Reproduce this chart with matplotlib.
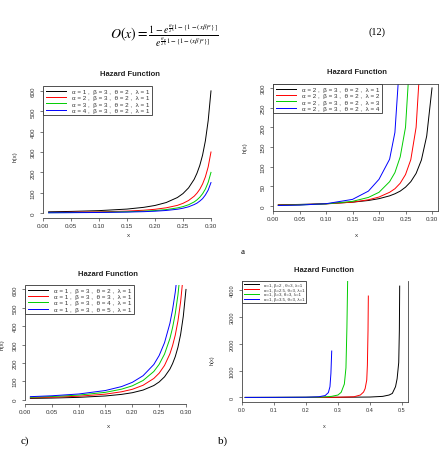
import matplotlib
matplotlib.use("Agg")
import matplotlib.pyplot as plt
from matplotlib.lines import Line2D

plt.rcParams['font.family'] = ['Liberation Sans', 'DejaVu Sans']
plt.rcParams['mathtext.fontset'] = 'stix'

# ---- data ----
# (a) top-left: alpha varies
x_a = [0.01, 0.05, 0.10, 0.15, 0.18, 0.20, 0.22, 0.24, 0.25, 0.26, 0.27, 0.275, 0.28, 0.285, 0.29, 0.295, 0.30]
h_a1 = [6.4, 8.3, 12.2, 19.8, 28.4, 37.5, 51.9, 76.5, 96, 124, 166, 196, 234, 285, 355, 454, 600]
h_a2 = [3.2, 4.2, 6.1, 9.9, 14.2, 18.8, 26, 38, 48, 62, 83, 98, 117, 143, 178, 227, 300]
h_a3 = [2.1, 2.8, 4.1, 6.6, 9.5, 12.5, 17.3, 25.5, 32, 41, 55, 65, 78, 95, 118, 151, 200]
h_a4 = [1.6, 2.1, 3.1, 5.0, 7.1, 9.4, 13, 19, 24, 31, 42, 49, 59, 71, 89, 113, 150]
labels_a = ["α = 1 ,  β = 3 ,  θ = 2 ,  λ = 1", "α = 2 ,  β = 3 ,  θ = 2 ,  λ = 1",
            "α = 3 ,  β = 3 ,  θ = 2 ,  λ = 1", "α = 4 ,  β = 3 ,  θ = 2 ,  λ = 1"]

# top-right: lambda varies
x_l1 = [0.01, 0.05, 0.10, 0.15, 0.18, 0.20, 0.22, 0.23, 0.24, 0.25, 0.26, 0.27, 0.28, 0.29, 0.30]
h_l1 = [3.2, 4.2, 6.1, 9.9, 14.2, 18.8, 26, 31.2, 38, 48, 62, 83, 117, 178, 300]
x_l2 = [0.01, 0.05, 0.10, 0.15, 0.18, 0.20, 0.22, 0.23, 0.24, 0.25, 0.26, 0.27, 0.28]
h_l2 = [2.5, 3.5, 5.5, 10, 16, 23, 35, 44, 58, 80, 118, 200, 420]
x_l3 = [0.01, 0.05, 0.10, 0.15, 0.18, 0.20, 0.22, 0.23, 0.24, 0.25, 0.26]
h_l3 = [2, 3, 5.5, 12, 22, 35, 62, 85, 125, 200, 420]
x_l4 = [0.01, 0.05, 0.10, 0.15, 0.18, 0.20, 0.22, 0.23, 0.24]
h_l4 = [1.5, 2.5, 6, 17, 38, 68, 119, 187, 390]
labels_l = ["α = 2 ,  β = 3 ,  θ = 2 ,  λ = 1", "α = 2 ,  β = 3 ,  θ = 2 ,  λ = 2",
            "α = 2 ,  β = 3 ,  θ = 2 ,  λ = 3", "α = 2 ,  β = 3 ,  θ = 2 ,  λ = 4"]

# (c) bottom-left: theta varies
x_t = x_a
h_t1 = h_a1
h_t2 = [9.6, 12.5, 18.3, 29.7, 42.6, 56, 78, 115, 144, 186, 249, 294, 351, 428, 533, 681, 900]
h_t3 = [12.8, 16.6, 24.4, 39.6, 56.8, 75, 104, 153, 192, 248, 332, 392, 468, 570, 710, 908, 1200]
h_t4 = [16, 20.8, 30.5, 49.5, 71, 94, 130, 191, 240, 310, 415, 490, 585, 713, 888, 1135, 1500]
labels_t = ["α = 1 ,  β = 3 ,  θ = 2 ,  λ = 1", "α = 1 ,  β = 3 ,  θ = 3 ,  λ = 1",
            "α = 1 ,  β = 3 ,  θ = 4 ,  λ = 1", "α = 1 ,  β = 3 ,  θ = 5 ,  λ = 1"]

# (b) bottom-right: beta varies
x_b1 = [0.01, 0.10, 0.20, 0.30, 0.40, 0.44, 0.46, 0.47, 0.48, 0.485, 0.49, 0.492, 0.493]
h_b1 = [0, 1, 3, 6, 15, 40, 90, 150, 400, 700, 1300, 2500, 4150]
x_b2 = [0.01, 0.10, 0.20, 0.30, 0.35, 0.37, 0.38, 0.385, 0.39, 0.392, 0.394, 0.395]
h_b2 = [0, 1, 3, 8, 25, 90, 200, 330, 650, 1200, 2500, 3780]
x_b3 = [0.01, 0.10, 0.20, 0.25, 0.28, 0.30, 0.31, 0.32, 0.325, 0.328, 0.3305]
h_b3 = [0, 2, 6, 15, 40, 90, 190, 500, 1100, 2600, 4500]
x_b4 = [0.01, 0.10, 0.20, 0.24, 0.26, 0.27, 0.275, 0.278, 0.2795, 0.2805]
h_b4 = [0, 2, 8, 25, 70, 180, 400, 900, 1400, 1730]
labels_b = ["α=1, β=2 , θ=3, λ=1", "α=1, β=2.5, θ=3, λ=1",
            "α=1, β=3, θ=3, λ=1", "α=1, β=3.5, θ=3, λ=1"]

colors = ['black', 'red', '#00CD00', 'blue']

W, H = 446, 452
fig = plt.figure(figsize=(W / 100, H / 100), dpi=100)


def px_axes(l, t, r, b):
    return fig.add_axes([l / W, 1 - b / H, (r - l) / W, (b - t) / H])


def fig_xy(x, y):
    return x / W, 1 - y / H


def style(ax, xticks, xlabels, yticks, box=False, tick_fs=4.5):
    ax.set_xticks(xticks)
    ax.set_xticklabels(xlabels)
    ax.set_yticks(yticks)
    ax.set_yticklabels([str(v) for v in yticks])
    ax.tick_params(direction='out', length=2.2, width=0.5, colors='#444',
                   labelsize=tick_fs, labelcolor='#333', pad=1.5)
    ax.tick_params(axis='y', labelrotation=90, pad=3)
    for lb in ax.get_yticklabels():
        lb.set_va('center')
    for s in ax.spines.values():
        s.set_linewidth(0.6)
        s.set_color('#444')
    if not box:
        ax.spines['top'].set_visible(False)
        ax.spines['right'].set_visible(False)
        ax.spines['left'].set_bounds(yticks[0], yticks[-1])
        ax.spines['bottom'].set_bounds(xticks[0], xticks[-1])


def add_legend(ax, labels, fs=4.5, hl=3.2):
    handles = [Line2D([], [], color=c, lw=0.7) for c in colors]
    leg = ax.legend(handles, labels, loc='upper left', bbox_to_anchor=(0, 1),
                    borderaxespad=0, fontsize=fs, frameon=True, fancybox=False,
                    edgecolor='#333', framealpha=1, handlelength=hl,
                    handletextpad=1.0, labelspacing=0.15, borderpad=0.4)
    leg.get_frame().set_linewidth(0.6)
    for t in leg.get_texts():
        t.set_color('#333')


def labels(ax, title_xy, xlab_xy, ylab_xy, fs=4.5):
    ax.text(*fig_xy(*title_xy), "Hazard Function", transform=fig.transFigure,
            fontsize=5.5, fontweight='bold', color='#222', ha='center', va='center')
    ax.set_xlabel("x", fontsize=fs, color='#333')
    ax.xaxis.set_label_coords(*fig_xy(*xlab_xy), transform=fig.transFigure)
    ax.set_ylabel("h(x)", fontsize=fs, color='#333')
    ax.yaxis.set_label_coords(*fig_xy(*ylab_xy), transform=fig.transFigure)


# equation
eq = (r'$O\left(x\right)=\frac{1-e^{\frac{\theta}{\lambda}\left[1-\left\{1-\left(x\beta\right)^{\alpha}\right\}\right]}}'
      r'{e^{\frac{\theta}{\lambda}\left[1-\left\{1-\left(x\beta\right)^{\alpha}\right\}\right]}}$')
fig.text(*fig_xy(164, 36), eq, fontsize=10, ha='center', va='center')
fig.text(*fig_xy(377, 32), "(12)", fontsize=7.5, family='Liberation Serif', ha='center', va='center')

# top-left panel
ax1 = px_axes(43, 87, 213, 219)
for y, c in zip([h_a1, h_a2, h_a3, h_a4], colors):
    ax1.plot(x_a, y, color=c, lw=0.7)
ax1.set_xlim(0.0, 0.3036)
ax1.set_ylim(-24, 624)
style(ax1, [0, 0.05, 0.10, 0.15, 0.20, 0.25, 0.30],
      ["0.00", "0.05", "0.10", "0.15", "0.20", "0.25", "0.30"],
      [0, 100, 200, 300, 400, 500, 600])
add_legend(ax1, labels_a)
labels(ax1, (130, 74), (128, 233), (18, 157))

# top-right panel
ax2 = px_axes(273, 85, 438, 212)
for xx, y, c in zip([x_l1, x_l2, x_l3, x_l4], [h_l1, h_l2, h_l3, h_l4], colors):
    ax2.plot(xx, y, color=c, lw=0.7)
ax2.set_xlim(0.0, 0.3113)
ax2.set_ylim(-12.5, 310)
style(ax2, [0, 0.05, 0.10, 0.15, 0.20, 0.25, 0.30],
      ["0.00", "0.05", "0.10", "0.15", "0.20", "0.25", "0.30"],
      [0, 50, 100, 150, 200, 250, 300], box=True)
add_legend(ax2, labels_l)
labels(ax2, (357, 72), (356, 233), (248, 148))

# bottom-left panel
ax3 = px_axes(25, 286, 189, 405)
for y, c in zip([h_t1, h_t2, h_t3, h_t4], colors):
    ax3.plot(x_t, y, color=c, lw=0.7)
ax3.set_xlim(0.0, 0.3056)
ax3.set_ylim(-24, 624)
style(ax3, [0, 0.05, 0.10, 0.15, 0.20, 0.25, 0.30],
      ["0.00", "0.05", "0.10", "0.15", "0.20", "0.25", "0.30"],
      [0, 100, 200, 300, 400, 500, 600])
add_legend(ax3, labels_t)
labels(ax3, (108, 274), (108, 424), (5, 345))

# bottom-right panel
ax4 = px_axes(242, 282, 408, 403)
for xx, y, c in zip([x_b1, x_b2, x_b3, x_b4], [h_b1, h_b2, h_b3, h_b4], colors):
    ax4.plot(xx, y, color=c, lw=0.7)
ax4.set_xlim(0.0, 0.519)
ax4.set_ylim(-170, 4340)
style(ax4, [0, 0.1, 0.2, 0.3, 0.4, 0.5], ["0.0", "0.1", "0.2", "0.3", "0.4", "0.5"],
      [0, 1000, 2000, 3000, 4000], box=True, tick_fs=4)
ax4.spines['top'].set_visible(False)
add_legend(ax4, labels_b, fs=3.2, hl=3.5)
labels(ax4, (324, 270), (324, 424), (215, 360), fs=4)

# panel tags
fig.text(*fig_xy(243, 252), "a", fontsize=6.5, family='Liberation Serif', ha='center', va='center')
fig.text(*fig_xy(25, 441), "c)", fontsize=8, family='Liberation Serif', ha='center', va='center')
fig.text(*fig_xy(223, 441), "b)", fontsize=8, family='Liberation Serif', ha='center', va='center')

fig.savefig("out.png", dpi=100)
